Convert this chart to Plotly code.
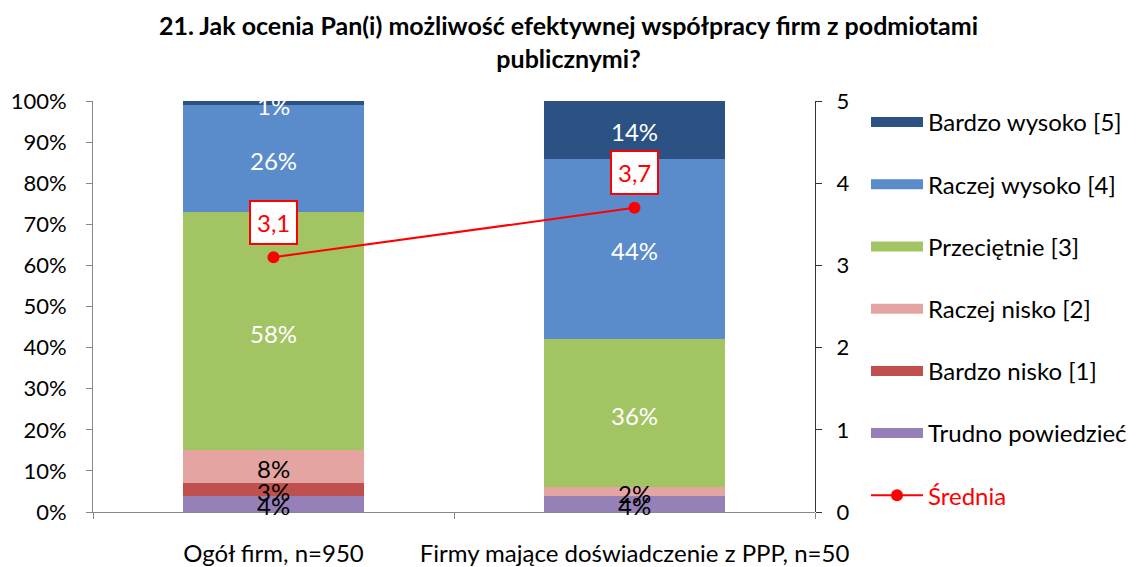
import plotly.graph_objects as go

categories = ["Ogół firm, n=950", "Firmy mające doświadczenie z PPP, n=50"]
series_names = ["Trudno powiedzieć", "Bardzo nisko [1]", "Raczej nisko [2]",
                "Przeciętnie [3]", "Raczej wysoko [4]", "Bardzo wysoko [5]"]
trudno = [4, 4]
bardzo_nisko = [3, 0]
raczej_nisko = [8, 2]
przecietnie = [58, 36]
raczej_wysoko = [26, 44]
bardzo_wysoko = [1, 14]
srednia = [3.1, 3.7]
right_ticks = [0, 1, 2, 3, 4, 5]

series_values = [trudno, bardzo_nisko, raczej_nisko, przecietnie, raczej_wysoko, bardzo_wysoko]
colors = ["#9580B8", "#C0504D", "#E4A5A2", "#A3C462", "#5A8BCB", "#2B5283"]
text_colors = ["black", "black", "black", "white", "white", "white"]
ranks = [6, 5, 4, 3, 2, 1]

FONT = "Lato"
fig = go.Figure()
# stacked bars
for name, vals, col in zip(series_names, series_values, colors):
    fig.add_trace(go.Bar(
        x=categories, y=vals, name=name, showlegend=False,
        marker=dict(color=col, line=dict(color=col, width=0)),
        width=0.5, legendgroup=name,
    ))

# data labels on top of all bars (midpoints of stacked segments)
base = [0] * len(categories)
for name, vals, tc in zip(series_names, series_values, text_colors):
    for c, b, v in zip(categories, base, vals):
        if v > 0:
            fig.add_annotation(
                x=c, y=b + v / 2, xref="x", yref="y", text=f"{v}%",
                showarrow=False, yshift=-2,
                font=dict(color=tc, size=24, family=FONT),
            )
    base = [b + v for b, v in zip(base, vals)]

# legend entries drawn as wide bars
for name, col, rk in zip(series_names, colors, ranks):
    fig.add_trace(go.Scatter(
        x=[None], y=[None], mode="lines", name=name,
        line=dict(color=col, width=12),
        legendgroup=name, legendrank=rk, showlegend=True,
    ))

fig.add_trace(go.Scatter(
    x=categories, y=srednia, name="<span style='color:#FF0000'>Średnia</span>", yaxis="y2",
    mode="lines+markers", line=dict(color="#FF0000", width=2),
    marker=dict(color="#FF0000", size=12),
    legendgroup="Średnia", legendrank=7,
))

for c, m in zip(categories, srednia):
    fig.add_annotation(
        x=c, y=m, xref="x", yref="y2",
        text=f"{m:.1f}".replace(".", ","), showarrow=False,
        yshift=35, font=dict(color="#FF0000", size=24, family=FONT),
        bgcolor="white", bordercolor="#FF0000", borderwidth=2, borderpad=6,
    )

fig.update_layout(
    width=1130, height=559,
    barmode="stack",
    paper_bgcolor="white", plot_bgcolor="white",
    margin=dict(l=85, r=323, t=93, b=55, autoexpand=False),
    font=dict(family=FONT, size=22, color="black"),
    title=dict(
        text="<b>21. Jak ocenia Pan(i) możliwość efektywnej współpracy firm z podmiotami<br>publicznymi?</b>",
        x=(568.5 - 8) / 1130, xanchor="center", xref="container",
        y=1 - 27 / 559, yanchor="middle", yref="container",
        font=dict(size=25, family=FONT, color="black"),
    ),
    xaxis=dict(
        showline=True, linecolor="#888888", linewidth=1,
        ticks="outside", tickson="boundaries", ticklen=6, tickcolor="#888888",
        tickfont=dict(size=24), showgrid=False, ticklabelstandoff=20,
        tickangle=0, automargin=False, domain=[0, 1],
    ),
    yaxis=dict(
        range=[0, 100], tickvals=list(range(0, 101, 10)),
        ticktext=[f"{v}%" for v in range(0, 101, 10)],
        showline=True, linecolor="#888888", linewidth=1,
        ticks="outside", ticklen=6, tickcolor="#888888",
        showgrid=False, zeroline=False, tickfont=dict(size=22),
        ticklabelstandoff=15, automargin=False,
    ),
    yaxis2=dict(
        range=[0, 5], tickvals=right_ticks,
        overlaying="y", side="right", anchor="free", position=1.0,
        showline=True, linecolor="#333333", linewidth=1,
        ticks="outside", ticklen=6, tickcolor="#333333",
        showgrid=False, zeroline=False, tickfont=dict(size=22),
        ticklabelstandoff=10, automargin=False,
    ),
    legend=dict(
        x=1.0 + (866 - 815) / 722, xanchor="left", y=1.0 + 1 / 411, yanchor="top",
        traceorder="grouped", tracegroupgap=28,
        font=dict(size=24, family=FONT), itemwidth=52,
        bgcolor="rgba(0,0,0,0)", maxheight=540,
    ),
    showlegend=True,
)

fig.write_html("out.html")
